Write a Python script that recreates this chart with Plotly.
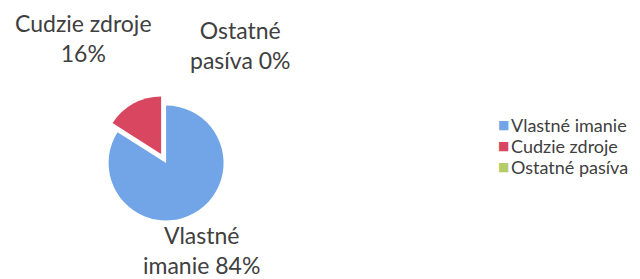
import plotly.graph_objects as go

labels = ["Vlastné imanie", "Cudzie zdroje", "Ostatné pasíva"]
values = [84, 16, 0]
label_lines = ["Vlastné<br>imanie", "Cudzie zdroje<br>", "Ostatné<br>pasíva"]
colors = ["#72A5E7", "#D8465F", "#B5CC6A"]
pulls = [0, 0.18, 0]

total = sum(values)
pcts = [round(100 * v / total) for v in values]

W, H = 640, 279

fig = go.Figure()
fig.add_trace(go.Pie(
    labels=labels,
    values=values,
    sort=False,
    direction="clockwise",
    rotation=0,
    pull=pulls,
    marker=dict(colors=colors, line=dict(color="#ffffff", width=0)),
    textinfo="none",
    hoverinfo="label+percent",
    showlegend=False,
    domain=dict(x=[0.141, 0.353], y=[0.201, 0.688]),
))

font_lbl = dict(family="Lato, Open Sans, sans-serif", size=23, color="#404040")
pos = [(0.303, 0.133, "center", "middle"), (0.118, 1.0, "center", "top"), (0.364, 0.975, "center", "top")]
for i, (x, y, xa, ya) in enumerate(pos):
    sep = "" if label_lines[i].endswith("<br>") else " "
    txt = label_lines[i] + sep + f"{pcts[i]}%"
    fig.add_annotation(x=x, y=y, xref="paper", yref="paper", text=txt,
                       showarrow=False, xanchor=xa, yanchor=ya, font=font_lbl, align="center",
                       borderpad=0)

# legend drawn as text entries (keeps Excel-like compact spacing)
font_leg = dict(family="Lato, Open Sans, sans-serif", size=18, color="#404040")
row_px = [117, 138, 159]
for i, lab in enumerate(labels):
    yp = 1 - row_px[i] / H
    fig.add_annotation(x=495.5 / W, y=yp, xref="paper", yref="paper",
                       text="■", showarrow=False, xanchor="center", yanchor="middle",
                       font=dict(family="DejaVu Sans", size=12, color=colors[i]), borderpad=0)
    fig.add_annotation(x=502 / W, y=yp, xref="paper", yref="paper",
                       text=lab, showarrow=False, xanchor="left", yanchor="middle",
                       font=font_leg, borderpad=0)

fig.update_layout(
    width=W, height=H,
    margin=dict(l=0, r=0, t=0, b=0),
    paper_bgcolor="white", plot_bgcolor="white",
    showlegend=False,
)

fig.write_html("out.html")
